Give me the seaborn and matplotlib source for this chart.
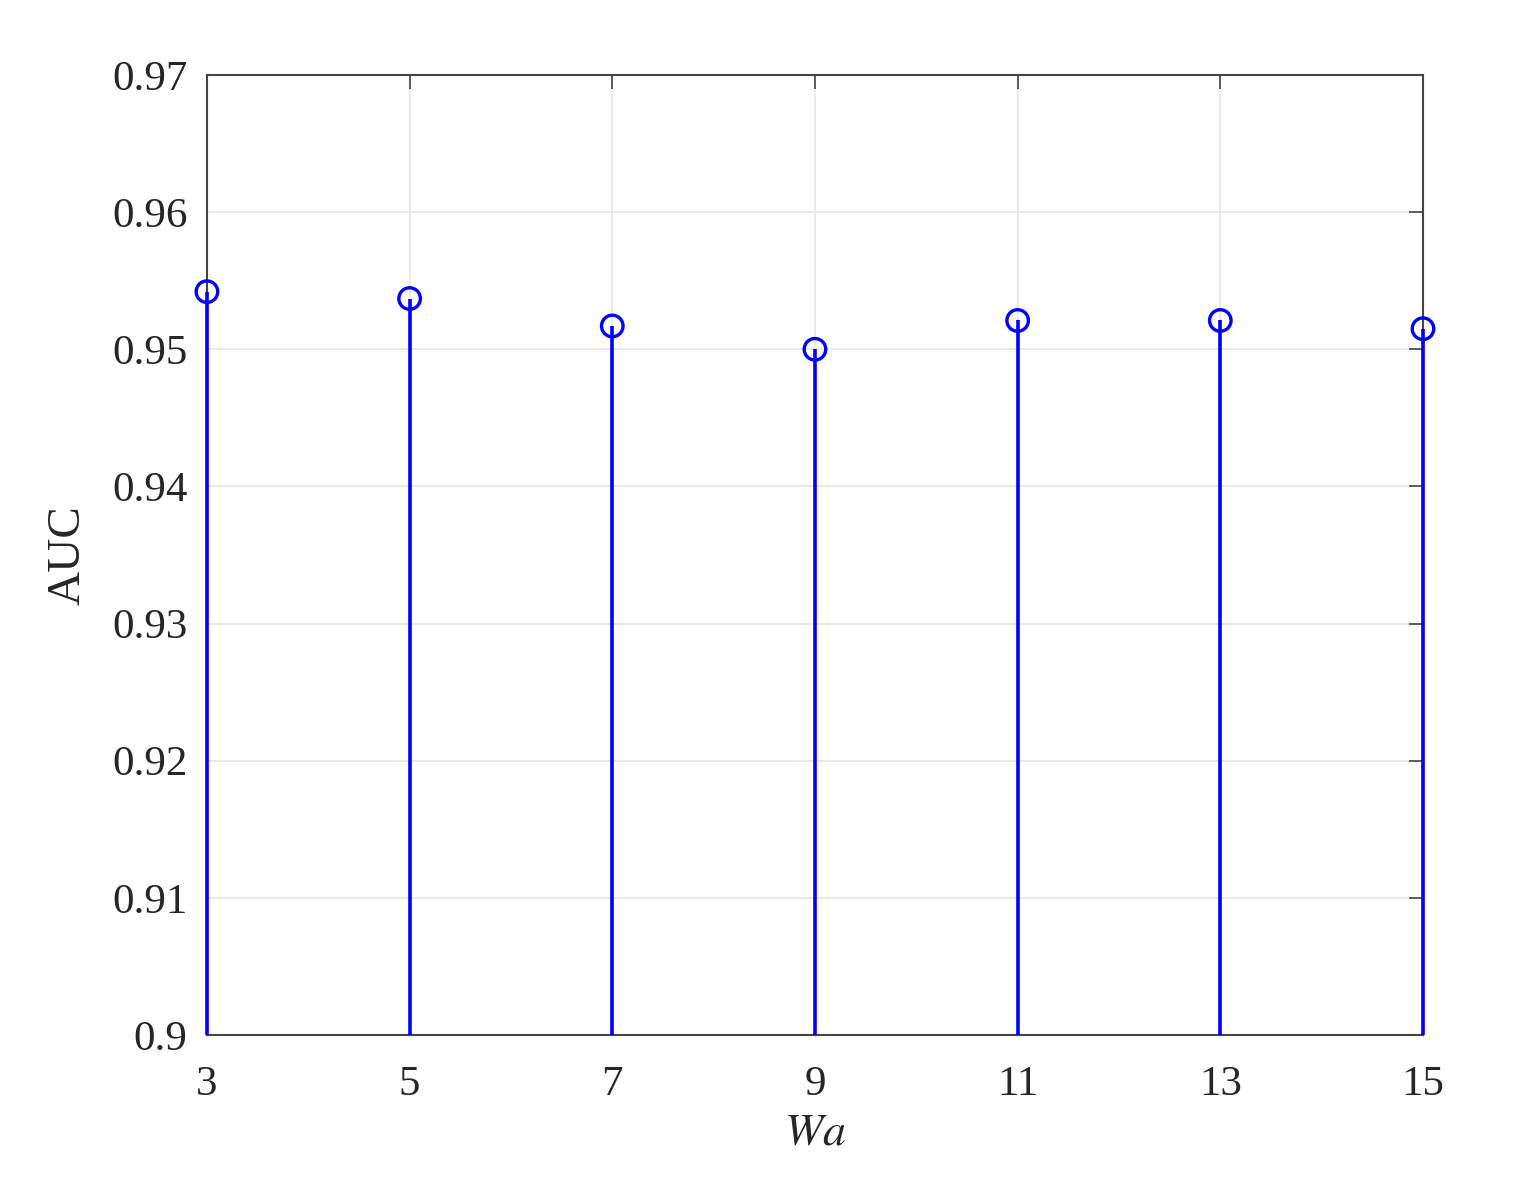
import numpy as np
import pandas as pd
import matplotlib
matplotlib.use('Agg')
import matplotlib.pyplot as plt
import seaborn as sns

wa_values = [3, 5, 7, 9, 11, 13, 15]
auc_values = [0.9542, 0.9537, 0.9517, 0.9500, 0.9521, 0.9521, 0.9515]
y_ticks = [0.9, 0.91, 0.92, 0.93, 0.94, 0.95, 0.96, 0.97]
y_tick_labels = ['0.9', '0.91', '0.92', '0.93', '0.94', '0.95', '0.96', '0.97']

df = pd.DataFrame({'Wa': wa_values, 'AUC': auc_values})

sns.set_style('white')
plt.rcParams['font.family'] = ['Liberation Serif', 'DejaVu Serif']
plt.rcParams['mathtext.fontset'] = 'stix'

fig = plt.figure(figsize=(15.25, 11.79), dpi=100)
ax = fig.add_axes([0.1357, 0.1221, 0.7974, 0.8143])

# stems from the baseline
ax.vlines(df['Wa'], 0.9, df['AUC'], color='#0000ff', linewidth=2.6,
          zorder=3, clip_on=False)
sns.scatterplot(data=df, x='Wa', y='AUC', ax=ax, marker='o', s=240,
                facecolor='none', edgecolor='#0000ff', linewidth=2.4,
                zorder=4, clip_on=False)

ax.set_xlim(3, 15)
ax.set_ylim(0.9, 0.97)
ax.set_xticks(wa_values)
ax.set_yticks(y_ticks)
ax.set_yticklabels(y_tick_labels)
ax.grid(True, color='#e6e6e6', linewidth=1.2)
ax.set_axisbelow(True)

for sp in ax.spines.values():
    sp.set_color('#444444')
    sp.set_linewidth(1.5)

ax.tick_params(direction='in', length=10, width=1.2, color='#444444',
               labelsize=31, labelcolor='#262626', top=True, right=True)
ax.tick_params(axis='x', pad=22)
ax.tick_params(axis='y', pad=14)

ax.set_xlabel('$Wa$', fontsize=33, color='#262626', labelpad=6)
ax.set_ylabel('AUC', fontsize=34, color='#262626', labelpad=16)

fig.savefig('out.png', dpi=100, facecolor='white')
